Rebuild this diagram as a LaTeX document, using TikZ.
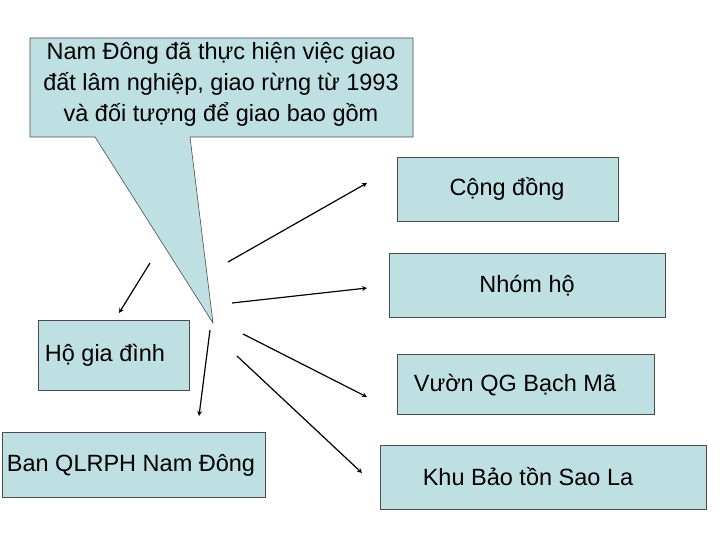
\documentclass[tikz,border=0pt]{standalone}
\usepackage{fontspec}
\setmainfont{Liberation Sans}
\begin{document}
\begin{tikzpicture}[x=1pt,y=-1pt,
  box/.style={draw=black!70,fill=cb,line width=0.6pt},
  lbl/.style={font=\fontsize{23.5}{31}\selectfont,inner sep=0pt},
  arr/.style={-stealth,line width=1.2pt}]
\definecolor{cb}{HTML}{BFE0E3}
\useasboundingbox (0,0) rectangle (720,540);
\fill[white] (0,0) rectangle (720,540);
% callout
\path[box] (30,38) -- (413,38) -- (413,137) -- (190,137) -- (213,323) -- (95,137) -- (30,137) -- cycle;
\node[lbl,align=center] (call) at (221,84) {Nam Đông đã thực hiện việc giao\\đất lâm nghiệp, giao rừng từ 1993\\và đối tượng để giao bao gồm};
\coordinate (tip) at (213,323);
% boxes
\draw[box] (397,157) rectangle (618,221); \node[lbl] (cd) at (507,189) {Cộng đồng};
\draw[box] (389,253) rectangle (665,317); \node[lbl] (nh) at (527,286) {Nhóm hộ};
\draw[box] (38,320) rectangle (189,390); \node[lbl] (hgd) at (105,355) {Hộ gia đình};
\draw[box] (397,354) rectangle (654,414); \node[lbl] (vqg) at (515,385) {Vườn QG Bạch Mã};
\draw[box] (2,432) rectangle (265,497); \node[lbl] (ban) at (131,465) {Ban QLRPH Nam Đông};
\draw[box] (380,445) rectangle (706,509); \node[lbl] (kbt) at (528,477) {Khu Bảo tồn Sao La};
% arrows
\coordinate (a1) at (228,262); \coordinate (b1) at (367,183);
\coordinate (a2) at (232,303); \coordinate (b2) at (367,288);
\coordinate (a3) at (243,334); \coordinate (b3) at (367,397);
\coordinate (a4) at (237,356); \coordinate (b4) at (362,473);
\coordinate (a5) at (150,263); \coordinate (b5) at (119,313);
\coordinate (a6) at (210,330); \coordinate (b6) at (199,416);
\foreach \i in {1,...,6} \draw[arr] (a\i) -- (b\i);
\end{tikzpicture}
\end{document}
